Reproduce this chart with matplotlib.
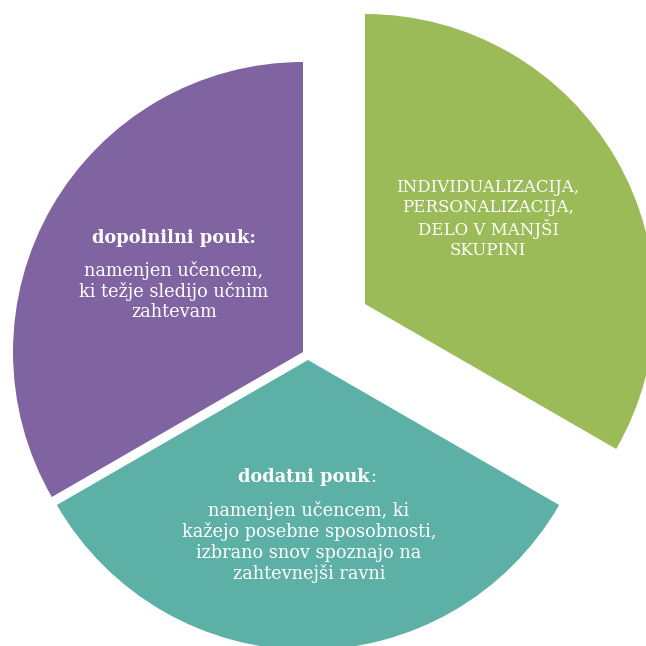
import matplotlib
matplotlib.use("Agg")
import matplotlib.pyplot as plt

# data
categories = ["INDIVIDUALIZACIJA,\nPERSONALIZACIJA,\nDELO V MANJŠI\nSKUPINI",
              "dodatni pouk", "dopolnilni pouk:"]
bodies = ["", "namenjen učencem, ki\nkažejo posebne sposobnosti,\nizbrano snov spoznajo na\nzahtevnejši ravni",
          "namenjen učencem,\nki težje sledijo učnim\nzahtevam"]
values = [1, 1, 1]

colors = ["#9BBB59", "#5DB0A6", "#8064A2"]
H = 646
R = 290
centers = [(365, H - 304), (308, H - 360), (303, H - 352)]

fig = plt.figure(figsize=(6.46, 6.46), dpi=100)
ax = fig.add_axes([0, 0, 1, 1])
wedges, _ = ax.pie(values, colors=colors, startangle=90, counterclock=False,
                   radius=R, center=(308, H - 355), frame=True,
                   wedgeprops=dict(linewidth=0))
for w, c in zip(wedges, centers):
    w.set_center(c)
ax.set_xlim(0, 646)
ax.set_ylim(0, 646)
ax.set_aspect('equal')
ax.axis('off')

font = "DejaVu Serif"
fs = 12.8
ls = 1.17
# green label
ax.text(488, H - 219, categories[0], ha='center', va='center', color='white',
        fontsize=12.0, family=font, linespacing=1.2)
# teal
tb = ax.text(304, H - 477, categories[1], ha='center', va='center', color='white',
             fontsize=fs, family=font, fontweight='bold')
ax.annotate(":", xy=(1, 0), xycoords=tb, ha='left', va='bottom', color='white',
            fontsize=fs, family=font)
ax.text(309, H - 542, bodies[1], ha='center', va='center', color='white',
        fontsize=fs, family=font, linespacing=ls)
# purple
ax.text(174, H - 238, categories[2], ha='center', va='center', color='white',
        fontsize=fs, family=font, fontweight='bold')
ax.text(174, H - 291, bodies[2], ha='center', va='center', color='white',
        fontsize=fs, family=font, linespacing=ls)

fig.savefig("out.png", dpi=100)
